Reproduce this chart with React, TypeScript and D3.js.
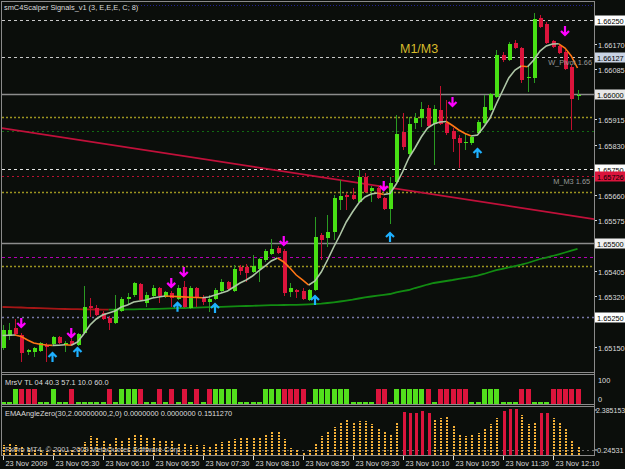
import React from "react";
import * as d3 from "d3";

// M5 bars, 23 Nov 2009 04:50 .. 12:30
const open = [1.65146,1.65186,1.65213,1.65189,1.65132,1.65132,1.65136,1.65156,1.65159,1.65183,
1.65156,1.65169,1.65156,1.65196,1.65287,1.65280,1.65263,1.65247,1.65230,1.65270,
1.65311,1.65324,1.65361,1.65297,1.65321,1.65348,1.65317,1.65331,1.65311,1.65351,
1.65280,1.65348,1.65317,1.65301,1.65311,1.65338,1.65368,1.65338,1.65418,1.65418,
1.65402,1.65412,1.65442,1.65462,1.65482,1.65472,1.65334,1.65341,1.65338,1.65307,
1.65341,1.65526,1.65516,1.65536,1.65644,1.65661,1.65661,1.65637,1.65721,1.65674,
1.65684,1.65651,1.65614,1.65705,1.65873,1.65799,1.65903,1.65920,1.65954,1.65900,
1.65947,1.65903,1.65876,1.65853,1.65836,1.65836,1.65870,1.65903,1.65947,1.65991,
1.66132,1.66115,1.66173,1.66156,1.66055,1.66055,1.66257,1.66237,1.66179,1.66162,
1.66142,1.66092,1.65994];
const high = [1.65223,1.65230,1.65243,1.65196,1.65142,1.65149,1.65166,1.65162,1.65186,1.65186,
1.65169,1.65176,1.65196,1.65354,1.65314,1.65290,1.65270,1.65253,1.65324,1.65317,
1.65331,1.65368,1.65364,1.65334,1.65358,1.65351,1.65338,1.65338,1.65358,1.65371,
1.65354,1.65351,1.65324,1.65324,1.65348,1.65378,1.65371,1.65425,1.65425,1.65428,
1.65459,1.65449,1.65479,1.65513,1.65489,1.65479,1.65364,1.65344,1.65348,1.65344,
1.65587,1.65533,1.65593,1.65661,1.65711,1.65668,1.65684,1.65745,1.65735,1.65691,
1.65694,1.65654,1.65721,1.65930,1.65937,1.65923,1.65937,1.65974,1.65964,1.65964,
1.66028,1.65981,1.65886,1.65863,1.65870,1.65863,1.65913,1.65998,1.66004,1.66149,
1.66142,1.66176,1.66183,1.66159,1.66098,1.66274,1.66267,1.66243,1.66183,1.66169,
1.66149,1.66098,1.66014];
const low = [1.65139,1.65173,1.65186,1.65098,1.65122,1.65115,1.65132,1.65098,1.65152,1.65159,
1.65132,1.65152,1.65152,1.65193,1.65250,1.65253,1.65240,1.65206,1.65226,1.65267,
1.65290,1.65317,1.65304,1.65284,1.65314,1.65297,1.65314,1.65284,1.65307,1.65280,
1.65277,1.65284,1.65290,1.65267,1.65307,1.65334,1.65341,1.65334,1.65391,1.65368,
1.65398,1.65368,1.65435,1.65459,1.65462,1.65321,1.65317,1.65314,1.65307,1.65304,
1.65338,1.65442,1.65486,1.65509,1.65610,1.65610,1.65644,1.65634,1.65668,1.65637,
1.65647,1.65610,1.65563,1.65701,1.65812,1.65785,1.65883,1.65890,1.65886,1.65762,
1.65896,1.65863,1.65806,1.65752,1.65812,1.65829,1.65866,1.65900,1.65944,1.65987,
1.66109,1.66112,1.66152,1.66038,1.66008,1.66038,1.66223,1.66169,1.66156,1.66135,
1.66082,1.65880,1.65981];
const close = [1.65206,1.65206,1.65193,1.65129,1.65139,1.65146,1.65162,1.65149,1.65183,1.65162,
1.65162,1.65156,1.65193,1.65284,1.65280,1.65257,1.65243,1.65230,1.65277,1.65311,
1.65317,1.65364,1.65307,1.65324,1.65348,1.65321,1.65334,1.65314,1.65348,1.65284,
1.65348,1.65317,1.65301,1.65311,1.65341,1.65368,1.65344,1.65412,1.65405,1.65398,
1.65422,1.65445,1.65472,1.65479,1.65466,1.65331,1.65348,1.65334,1.65311,1.65341,
1.65519,1.65509,1.65536,1.65651,1.65657,1.65654,1.65647,1.65721,1.65671,1.65684,
1.65651,1.65614,1.65701,1.65866,1.65822,1.65900,1.65920,1.65950,1.65893,1.65950,
1.65900,1.65870,1.65849,1.65836,1.65839,1.65856,1.65907,1.65957,1.66001,1.66132,
1.66115,1.66169,1.66156,1.66048,1.66058,1.66253,1.66226,1.66173,1.66159,1.66139,
1.66085,1.65984,1.65998];

// signal MA (gray up / orange down) and slow MA (green up / red down)
const fastMA = [1.651877,1.651887,1.651894,1.651844,1.651726,1.651625,1.651584,1.651557,1.651544,1.651551,
1.651564,1.651547,1.651658,1.651928,1.652231,1.652433,1.652567,1.652635,1.652702,1.652837,
1.652904,1.653005,1.653039,1.653072,1.653140,1.653173,1.653207,1.653197,1.653187,1.653177,
1.653167,1.653157,1.653147,1.653173,1.653241,1.653308,1.653375,1.653510,1.653645,1.653746,
1.653881,1.654049,1.654217,1.654386,1.654487,1.654352,1.654150,1.653914,1.653746,1.653577,
1.653712,1.654015,1.654419,1.654857,1.655261,1.655699,1.656035,1.656338,1.656540,1.656641,
1.656675,1.656625,1.656658,1.656978,1.657382,1.657853,1.658190,1.658561,1.658864,1.658998,
1.659066,1.659082,1.658948,1.658796,1.658678,1.658594,1.658628,1.658897,1.659200,1.659672,
1.660109,1.660547,1.660816,1.660951,1.660924,1.661153,1.661456,1.661625,1.661692,1.661699,
1.661557,1.661288,1.660884];
const slowMA = [1.652837,1.652833,1.652827,1.652820,1.652810,1.652803,1.652796,1.652790,1.652783,1.652776,
1.652769,1.652766,1.652763,1.652759,1.652756,1.652753,1.652749,1.652746,1.652749,1.652753,
1.652756,1.652759,1.652763,1.652766,1.652769,1.652776,1.652783,1.652790,1.652796,1.652803,
1.652810,1.652816,1.652824,1.652830,1.652837,1.652843,1.652850,1.652857,1.652864,1.652870,
1.652877,1.652884,1.652891,1.652897,1.652901,1.652904,1.652907,1.652911,1.652918,1.652928,
1.652938,1.652951,1.652971,1.652995,1.653022,1.653052,1.653082,1.653123,1.653160,1.653190,
1.653220,1.653247,1.653274,1.653325,1.653375,1.653409,1.653476,1.653534,1.653594,1.653645,
1.653678,1.653712,1.653746,1.653786,1.653820,1.653853,1.653894,1.653948,1.654015,1.654076,
1.654123,1.654167,1.654217,1.654261,1.654318,1.654386,1.654453,1.654503,1.654554,1.654611,
1.654672,1.654732,1.654790];

const sellBars = [3, 11, 27, 29, 45, 61, 72, 90];
const sellAt = [1.65213, 1.65179, 1.65348, 1.65385, 1.65489, 1.65674, 1.65957, 1.66196];
const buyBars = [8, 12, 28, 34, 50, 62, 76];
const buyAt = [1.65132, 1.65149, 1.65301, 1.65297, 1.65324, 1.65536, 1.65819];

const trendBars = [0, 92];
const trendPrices = [1.65886, 1.65588];

const levelPrices = [1.663, 1.6625, 1.66127, 1.66, 1.65923, 1.65876, 1.6575, 1.65726, 1.65671, 1.655, 1.65452, 1.65422, 1.6525];
const levelStyle = [
  { c: "#22228e", w: 1, d: "1,2" },
  { c: "#c8c8c8", w: 1, d: "3,3" },
  { c: "#c8c8c8", w: 1, d: "3,3" },
  { c: "#8c8c8c", w: 1.6, d: "" },
  { c: "#9c9420", w: 1.5, d: "2,2" },
  { c: "#126a12", w: 1, d: "2,3" },
  { c: "#e4e4e4", w: 1, d: "3,3" },
  { c: "#b81030", w: 1, d: "2,3" },
  { c: "#9c9420", w: 1.5, d: "2,2" },
  { c: "#8c8c8c", w: 1.6, d: "" },
  { c: "#b400b4", w: 1, d: "3,3" },
  { c: "#9c9420", w: 1.5, d: "2,2" },
  { c: "#7878a8", w: 1.3, d: "2,3" },
];

const gridLabels = ["1.66170","1.66085","1.65915","1.65830","1.65660","1.65575","1.65405","1.65320","1.65150","1.65065"];
const boxLabels = ["1.66250","1.66127","1.66000","1.65750","1.65726","1.65500","1.65250"];
const boxFill = ["#ffffff","#c9d3e4","#e8e8e8","#ffffff","#dc143c","#f0f0f0","#ffffff"];

const mrsvValue = [10,10,60,60,60,60,10,10,60,10, 10,60,10,10,10,10,10,60,10,60,
60,60,60,10,10,60,10,60,10,60, 10,60,10,60,60,60,60,60,10,10,
10,10,60,60,60,60,60,60,60,10, 60,60,60,60,60,60,10,10,10,10,
60,60,10,60,60,60,60,60,60,10, 60,60,60,60,60,10,10,60,60,60,
10,10,10,60,60,10,10,10,60,60, 60,60,60];
const mrsvSide = "ssGRRRssGssRsssssRsGGGRssRsRsRsRsRGGGGssssGGGRRRRsGGGGGGssssRRsGGGGGRsRRRRRssGGGsssRRsssRRRRR";

const emaAngle = [0.51,0.62,0.51,0.46,0.35,0.30,0.25,0.20,0.22,0.25,
0.20,0.25,0.35,0.67,1.00,0.94,0.78,0.62,0.89,0.78,
0.94,1.05,1.10,0.94,0.89,0.78,0.78,0.73,0.62,0.62,
0.51,0.51,0.51,0.46,0.57,0.67,0.78,0.83,0.89,0.89,
0.94,0.89,1.10,1.21,1.21,0.83,0.35,0.25,0.14,0.25,
0.57,1.00,1.21,1.48,1.74,1.85,1.74,1.80,1.80,1.64,
1.42,1.21,1.10,1.69,2.28,2.23,2.23,2.33,2.23,1.90,
1.96,2.01,1.58,1.10,1.00,1.10,1.16,1.42,1.64,1.96,
2.33,2.44,2.44,2.12,1.64,1.69,2.23,2.23,1.96,1.69,
1.37,0.78,0.41];
const emaTop = 2.385153;
const emaLevel = 0.245313;

const timeTickBars = [0, 8, 16, 24, 32, 40, 48, 56, 64, 72, 80, 88];
const timeLabels = ["23 Nov 2009","23 Nov 05:30","23 Nov 06:10","23 Nov 06:50","23 Nov 07:30","23 Nov 08:10",
  "23 Nov 08:50","23 Nov 09:30","23 Nov 10:10","23 Nov 10:50","23 Nov 11:30","23 Nov 12:10"];

const BG = "#0b0e0b";
const FONT = "'Liberation Sans', Arial, sans-serif";
const FS = 7.4;
const FRAME = "#8a8a8a";
const TXT = "#dcdcdc";

type Pt = [number, number];

// split a series into runs coloured by direction
function runs(vals: number[], up: string, down: string) {
  const out: { color: string; pts: Pt[] }[] = [];
  for (let i = 1; i < vals.length; i++) {
    const c = vals[i] >= vals[i - 1] ? up : down;
    const last = out[out.length - 1];
    if (last && last.color === c) last.pts.push([i, vals[i]]);
    else out.push({ color: c, pts: [[i - 1, vals[i - 1]], [i, vals[i]]] });
  }
  return out;
}

export default function App() {
  const n = close.length;
  const x = d3.scaleLinear().domain([0, n - 1]).range([2.5, 577.5]);
  const y = d3.scaleLinear().domain([1.6625, 1.6525]).range([20, 317]);
  const yM = d3.scaleLinear().domain([0, 100]).range([404, 379]);
  const yE = d3.scaleLinear().domain([emaLevel, emaTop]).range([450, 410]);
  const line = d3.line<Pt>().x(d => x(d[0])).y(d => y(d[1]));

  const right = 594;
  const tSlope = (trendPrices[1] - trendPrices[0]) / (trendBars[1] - trendBars[0]);
  const tAt = (b: number) => trendPrices[0] + (b - trendBars[0]) * tSlope;
  const b0 = x.invert(2), b1 = x.invert(right);

  const arrowDown = (cx: number, ty: number) =>
    `M${cx},${ty - 10}L${cx},${ty - 1}M${cx - 4},${ty - 5}L${cx},${ty - 1}L${cx + 4},${ty - 5}`;
  const arrowUp = (cx: number, ty: number) =>
    `M${cx},${ty + 10}L${cx},${ty + 1}M${cx - 4},${ty + 5}L${cx},${ty + 1}L${cx + 4},${ty + 5}`;

  return (
    <svg width={625} height={469} style={{ position: "fixed", left: 0, top: 0, background: BG }}
      fontFamily={FONT}>
      <defs>
        <clipPath id="mainClip"><rect x={2} y={2} width={right - 2} height={370} /></clipPath>
        <clipPath id="axisClip"><rect x={right} y={0} width={31} height={371} /></clipPath>
      </defs>
      <rect width={625} height={469} fill={BG} />

      <g clipPath="url(#mainClip)">
        {/* horizontal levels */}
        {levelPrices.map((p, i) => (
          <line key={"lv" + i} x1={i === 0 ? 138 : 2} x2={right} y1={Math.round(y(p)) + 0.5} y2={Math.round(y(p)) + 0.5}
            stroke={levelStyle[i].c} strokeWidth={levelStyle[i].w} strokeDasharray={levelStyle[i].d || undefined} />
        ))}
        {/* trend line */}
        <line x1={x(b0)} x2={x(b1)} y1={y(tAt(b0))} y2={y(tAt(b1))} stroke="#c0103a" strokeWidth={1.7} />

        {/* slow MA */}
        {runs(slowMA, "#128c12", "#a61616").map((r, i) => (
          <path key={"s" + i} d={line(r.pts) || ""} fill="none" stroke={r.color} strokeWidth={1.8} />
        ))}

        {/* candles */}
        <g shapeRendering="crispEdges">
          {open.map((o, i) => {
            const c = close[i];
            const up = c >= o;
            const cx = Math.round(x(i));
            const top = Math.round(y(Math.max(o, c)));
            const bot = Math.round(y(Math.min(o, c)));
            return (
              <g key={"c" + i}>
                <line x1={cx + 0.5} x2={cx + 0.5} y1={y(high[i])} y2={y(low[i])}
                  stroke={up ? "#2a9a22" : "#c0102e"} />
                <rect x={cx - 1.5} y={top} width={4} height={Math.max(1, bot - top)}
                  fill={up ? "#48e014" : "#dc143c"} />
              </g>
            );
          })}
        </g>

        {/* signal MA */}
        {runs(fastMA, "#aec6a6", "#ff7614").map((r, i) => (
          <path key={"f" + i} d={line(r.pts) || ""} fill="none" stroke={r.color} strokeWidth={1.6} />
        ))}

        {/* signal arrows */}
        {sellBars.map((b, i) => (
          <path key={"sa" + i} d={arrowDown(x(b), y(sellAt[i]))} fill="none" stroke="#ff00ff" strokeWidth={2.2} />
        ))}
        {buyBars.map((b, i) => (
          <path key={"ba" + i} d={arrowUp(x(b), y(buyAt[i]))} fill="none" stroke="#1eb0ff" strokeWidth={2.2} />
        ))}

        <text x={400} y={53} fontSize={12.5} fill="#d8bc2c">M1/M3</text>
        <text x={x(87.3)} y={y(1.66127) + 8} fontSize={FS} fill="#9a9a9a">W_Pivot 1.66</text>
        <text x={x(88.1)} y={y(1.65726) + 8} fontSize={FS} fill="#9a9a9a">M_M3 1.65</text>
        <text x={4} y={10} fontSize={FS} fill={TXT}>smC4Scalper Signals_v1 (3, E,E,E, C; 8)</text>
      </g>

      {/* price axis */}
      <g clipPath="url(#axisClip)" fontSize={FS}>
        {gridLabels.map(l => {
          const py = Math.round(y(+l)) + 0.5;
          return (
            <g key={l}>
              <line x1={right} x2={right + 3} y1={py} y2={py} stroke={TXT} />
              <text x={598} y={py + 3} fill={TXT}>{l}</text>
            </g>
          );
        })}
        {boxLabels.map((l, i) => {
          const py = Math.round(y(+l)) + 0.5;
          return (
            <g key={l}>
              <rect x={595} y={py - 5} width={30} height={10} fill={boxFill[i]} />
              <text x={597} y={py + 3} fill="#000">{l}</text>
            </g>
          );
        })}
      </g>

      {/* MrsV panel */}
      <g shapeRendering="crispEdges">
        {mrsvValue.map((v, i) => {
          const cx = Math.round(x(i));
          return (
            <rect key={"m" + i} x={cx - 2} y={yM(v)} width={5} height={yM(0) - yM(v)}
              fill={mrsvSide[i] === "R" ? "#dc143c" : "#52e01c"} />
          );
        })}
      </g>
      <text x={5} y={385} fontSize={FS} fill={TXT}>MrsV TL 04 40.3 57.1 10.0 60.0</text>
      <text x={598} y={yM(100) + 4} fontSize={FS} fill={TXT}>100</text>
      <text x={598} y={yM(0) - 2} fontSize={FS} fill={TXT}>0</text>

      {/* EMAAngleZero panel */}
      <line x1={2} x2={right} y1={Math.round(yE(emaLevel)) + 0.5} y2={Math.round(yE(emaLevel)) + 0.5}
        stroke="#6a6a6a" strokeDasharray="2,3" />
      <g shapeRendering="crispEdges">
        {emaAngle.map((v, i) => {
          const cx = Math.round(x(i)) + 1;
          return v > 2.2 ? (
            <rect key={"e" + i} x={cx - 1.5} y={yE(v)} width={3} height={yE(0) - yE(v)} fill="#dc143c" />
          ) : (
            <line key={"e" + i} x1={cx} x2={cx} y1={yE(0)} y2={yE(v)} stroke="#f4b038" strokeWidth={2}
              strokeDasharray="2,1" />
          );
        })}
      </g>
      <text x={5} y={416} fontSize={FS} fill={TXT}>EMAAngleZero(30,2.00000000,2,0) 0.0000000 0.0000000 0.1511270</text>
      <text x={5} y={452} fontSize={FS} fill="#c4c4c4">FxPro MT4, © 2001-2009 MetaQuotes Software Corp.</text>
      <line x1={right} x2={right + 3} y1={yE(emaTop)} y2={yE(emaTop)} stroke={TXT} />
      <text x={596} y={yE(emaTop) + 3} fontSize={7} fill={TXT}>{emaTop.toFixed(6)}</text>
      <line x1={right} x2={right + 3} y1={yE(emaLevel)} y2={yE(emaLevel)} stroke={TXT} />
      <text x={597} y={yE(emaLevel) + 3} fontSize={FS} fill={TXT}>{emaLevel.toFixed(5)}</text>

      {/* frame */}
      <g fill="none" stroke={FRAME} shapeRendering="crispEdges">
        <rect x={1.5} y={1.5} width={right - 1} height={454} />
        <line x1={1.5} x2={right} y1={372.5} y2={372.5} />
        <line x1={1.5} x2={right} y1={374.5} y2={374.5} />
        <line x1={1.5} x2={right} y1={404.5} y2={404.5} />
        <line x1={1.5} x2={right} y1={406.5} y2={406.5} />
      </g>

      {/* time axis */}
      {timeTickBars.map((b, i) => {
        const tx = Math.round(x(b)) + 0.5;
        return (
          <g key={"t" + i}>
            <line x1={tx} x2={tx} y1={456} y2={460} stroke={TXT} />
            <text x={tx + 2} y={466} fontSize={FS} fill={TXT}>{timeLabels[i]}</text>
          </g>
        );
      })}
    </svg>
  );
}
